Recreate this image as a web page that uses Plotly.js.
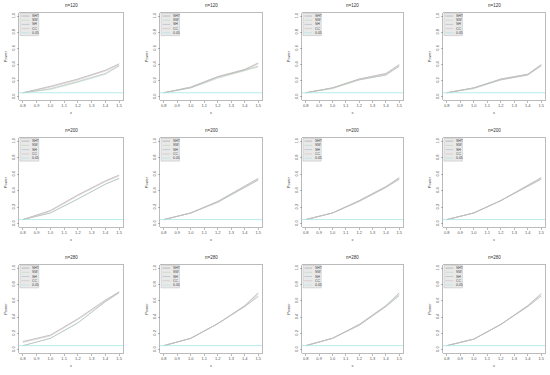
<!DOCTYPE html>
<html><head><meta charset="utf-8">
<script src="https://cdn.plot.ly/plotly-3.0.1.min.js"></script>
<style>html,body{margin:0;padding:0;background:#fff}#c{width:550px;height:375px}</style>
</head><body><div id="c"></div>
<script>
// ---- data ----
const xVals = [0.8, 1.0, 1.2, 1.4, 1.5];
const xTicks = [0.8, 0.9, 1.0, 1.1, 1.2, 1.3, 1.4, 1.5];
const yTicks = [0.0, 0.2, 0.4, 0.6, 0.8, 1.0];
const sampleSizes = ["n=120", "n=200", "n=280"];
const methods = ["SHT", "SW", "SH", "CC"];
const alphaLevel = 0.05;
const legendLabels = ["SHT", "SW", "SH", "CC", "0.05"];
// power per panel: rows = methods (SHT, SW, SH, CC)
const powerN120c1 = [[0.05,0.13,0.22,0.33,0.41],[0.05,0.09,0.18,0.28,0.38],[0.05,0.10,0.19,0.29,0.39],[0.05,0.12,0.21,0.32,0.40]];
const powerN120c2 = [[0.05,0.12,0.25,0.34,0.42],[0.05,0.11,0.23,0.32,0.37],[0.05,0.11,0.24,0.33,0.38],[0.05,0.12,0.25,0.33,0.41]];
const powerN120c3 = [[0.05,0.11,0.22,0.29,0.40],[0.05,0.10,0.21,0.27,0.38],[0.05,0.11,0.21,0.27,0.38],[0.05,0.11,0.22,0.28,0.39]];
const powerN120c4 = [[0.05,0.11,0.22,0.28,0.40],[0.05,0.10,0.21,0.27,0.38],[0.05,0.11,0.21,0.27,0.39],[0.05,0.11,0.22,0.28,0.39]];
const powerN200c1 = [[0.05,0.16,0.35,0.52,0.59],[0.05,0.13,0.30,0.48,0.55],[0.05,0.13,0.30,0.48,0.55],[0.05,0.15,0.34,0.51,0.58]];
const powerN200c2 = [[0.05,0.13,0.27,0.45,0.55],[0.05,0.13,0.26,0.44,0.53],[0.05,0.13,0.26,0.44,0.53],[0.05,0.13,0.27,0.45,0.54]];
const powerN200c3 = [[0.05,0.13,0.28,0.45,0.56],[0.05,0.13,0.27,0.44,0.54],[0.05,0.13,0.27,0.44,0.54],[0.05,0.13,0.28,0.45,0.55]];
const powerN200c4 = [[0.05,0.13,0.28,0.46,0.56],[0.05,0.13,0.28,0.45,0.54],[0.05,0.13,0.28,0.45,0.54],[0.05,0.13,0.28,0.46,0.55]];
const powerN280c1 = [[0.10,0.18,0.38,0.61,0.71],[0.05,0.14,0.33,0.59,0.70],[0.05,0.14,0.33,0.59,0.70],[0.09,0.17,0.37,0.60,0.71]];
const powerN280c2 = [[0.05,0.14,0.32,0.54,0.70],[0.05,0.14,0.32,0.53,0.65],[0.05,0.14,0.32,0.53,0.66],[0.05,0.14,0.32,0.54,0.68]];
const powerN280c3 = [[0.05,0.14,0.31,0.54,0.70],[0.05,0.14,0.30,0.53,0.66],[0.05,0.14,0.30,0.53,0.67],[0.05,0.14,0.31,0.54,0.68]];
const powerN280c4 = [[0.05,0.13,0.31,0.54,0.69],[0.05,0.13,0.31,0.53,0.66],[0.05,0.13,0.31,0.53,0.66],[0.05,0.13,0.31,0.54,0.68]];
const panels = [
  [powerN120c1, powerN120c2, powerN120c3, powerN120c4],
  [powerN200c1, powerN200c2, powerN200c3, powerN200c4],
  [powerN280c1, powerN280c2, powerN280c3, powerN280c4]
];

// ---- style / layout ----
const colors = ["#9a9a9a", "#b9d6b9", "#a8b4bd", "#cdbcbc"];
const alphaColor = "#a6e6e6";
const W = 550, H = 375;
const colL = [19, 160, 302, 443], colR = [123, 262, 403, 545];
const rowT = [13, 138, 265], rowB = [100, 227, 353];

const traces = [];
const layout = {
  width: W, height: H, margin: {l:0, r:0, t:0, b:0},
  paper_bgcolor: "#fff", plot_bgcolor: "#fff", showlegend: false,
  font: {family: "Liberation Sans, Arial, sans-serif", color: "#444", size: 4},
  shapes: [], annotations: []
};

let k = 0;
for (let r = 0; r < 3; r++) {
  for (let c = 0; c < 4; c++) {
    k++;
    const xa = k === 1 ? "x" : "x" + k;
    const ya = k === 1 ? "y" : "y" + k;
    const xKey = k === 1 ? "xaxis" : "xaxis" + k;
    const yKey = k === 1 ? "yaxis" : "yaxis" + k;
    const data = panels[r][c];
    methods.forEach((m, i) => {
      traces.push({x: xVals, y: data[i], xaxis: xa, yaxis: ya, type: "scatter", mode: "lines",
        name: m, line: {color: colors[i], width: 0.6}});
    });
    // reference level line across the whole panel
    layout.shapes.push({type: "line", xref: xa + " domain", yref: ya, x0: 0, x1: 1,
      y0: alphaLevel, y1: alphaLevel, line: {color: alphaColor, width: 0.8}});
    const common = {showline: true, mirror: true, linecolor: "#777", linewidth: 0.5,
      ticks: "outside", ticklen: 2, tickwidth: 0.5, tickcolor: "#777",
      showgrid: false, zeroline: false, tickfont: {size: 4, color: "#555"}};
    layout[xKey] = Object.assign({}, common, {
      domain: [colL[c]/W, colR[c]/W], anchor: ya, range: [0.772, 1.528],
      tickvals: xTicks, ticktext: xTicks.map(v => v.toFixed(1)),
      title: {text: "x", font: {size: 4, color: "#555"}, standoff: 3}
    });
    layout[yKey] = Object.assign({}, common, {
      domain: [1 - rowB[r]/H, 1 - rowT[r]/H], anchor: xa, range: [-0.04, 1.04],
      tickvals: yTicks, ticktext: yTicks.map(v => v.toFixed(1)), tickangle: -90,
      title: {text: "Power", font: {size: 4, color: "#555"}, standoff: 3}
    });
    // panel title
    layout.annotations.push({text: sampleSizes[r], xref: xa + " domain", yref: ya + " domain",
      x: 0.5, y: 1, yanchor: "bottom", yshift: 3, showarrow: false,
      font: {size: 4.5, color: "#333"}});
    // legend box
    layout.shapes.push({type: "rect", xref: xa + " domain", yref: ya + " domain",
      x0: 0.01, x1: 0.19, y0: 0.74, y1: 0.995, fillcolor: "#e9e9e9",
      line: {color: "#bbb", width: 0.5}, layer: "below"});
    legendLabels.forEach((lab, i) => {
      const yy = 0.965 - i * 0.048;
      const col = i < 4 ? colors[i] : alphaColor;
      layout.shapes.push({type: "line", xref: xa + " domain", yref: ya + " domain",
        x0: 0.025, x1: 0.10, y0: yy, y1: yy, line: {color: col, width: 0.6}});
      layout.annotations.push({text: lab, xref: xa + " domain", yref: ya + " domain",
        x: 0.11, y: yy, xanchor: "left", yanchor: "middle", showarrow: false,
        font: {size: 3.5, color: "#444"}});
    });
  }
}

Plotly.newPlot("c", traces, layout, {staticPlot: true, displayModeBar: false});
</script></body></html>
